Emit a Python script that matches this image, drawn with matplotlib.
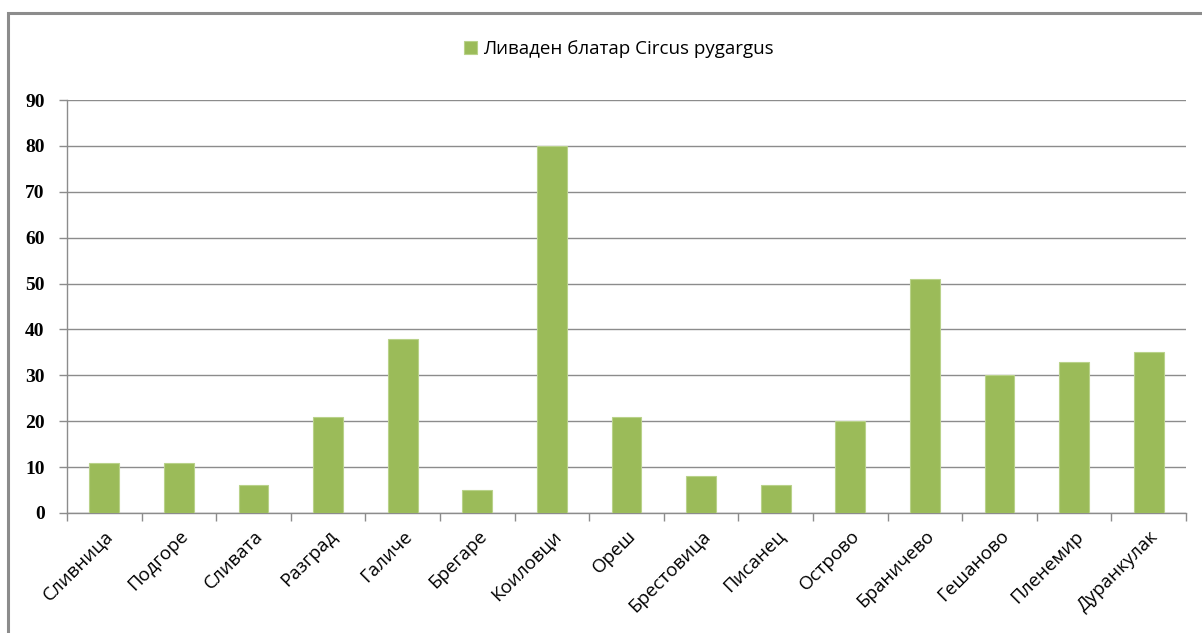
import matplotlib.pyplot as plt
from matplotlib.patches import Rectangle
import numpy as np

villages = ["Сливница", "Подгоре", "Сливата", "Разград", "Галиче", "Брегаре", "Коиловци",
            "Ореш", "Брестовица", "Писанец", "Острово", "Браничево", "Гешаново",
            "Пленемир", "Дуранкулак"]
counts = [11, 11, 6, 21, 38, 5, 80, 21, 8, 6, 20, 51, 30, 33, 35]
series_name = "Ливаден блатар Circus pygargus"
y_ticks = list(range(0, 100, 10))

fig = plt.figure(figsize=(12.02, 6.33), dpi=100)
ax = fig.add_axes([0.0557, 0.1896, 0.9310, 0.6524])

# chart border like the excel frame
fig.patches.append(Rectangle((8 / 1202, -0.05), 1.2, 1 - 13 / 633 + 0.05,
                             transform=fig.transFigure, fill=False,
                             edgecolor="#8c8c8c", linewidth=2.2))

x = np.arange(len(villages))
ax.bar(x, counts, width=0.4, color="#9BBB59", edgecolor="#b9d28a", linewidth=0.8,
       label=series_name, zorder=3)

ax.set_xlim(-0.5, len(villages) - 0.5)
ax.set_ylim(0, 90)
ax.set_yticks(y_ticks)
ax.set_yticklabels([str(v) for v in y_ticks], fontfamily="Liberation Serif",
                   fontweight="bold", fontsize=14)
ax.yaxis.grid(True, color="#8c8c8c", linewidth=1, zorder=0)

# ticks between categories
ax.set_xticks(np.arange(-0.5, len(villages), 1.0), minor=False)
ax.set_xticklabels([])
ax.set_xticks(x, minor=True)
ax.set_xticklabels(villages, minor=True, rotation=45, ha="right", va="top",
                   rotation_mode="anchor", fontfamily="Open Sans", fontsize=13.5)
ax.tick_params(axis="x", which="minor", length=0, pad=10)
ax.tick_params(axis="x", which="major", length=6, color="#8c8c8c", width=1)
ax.tick_params(axis="y", length=6, color="#8c8c8c", width=1, pad=10)

for side in ["top", "right"]:
    ax.spines[side].set_visible(False)
for side in ["left", "bottom"]:
    ax.spines[side].set_color("#8c8c8c")
    ax.spines[side].set_linewidth(1)

fig.legend(loc="center", bbox_to_anchor=(0.515, 0.922), frameon=False,
           prop={"family": "Open Sans", "size": 13.5}, handlelength=0.7,
           handleheight=0.7, handletextpad=0.3)

plt.savefig("out.png", dpi=100)
